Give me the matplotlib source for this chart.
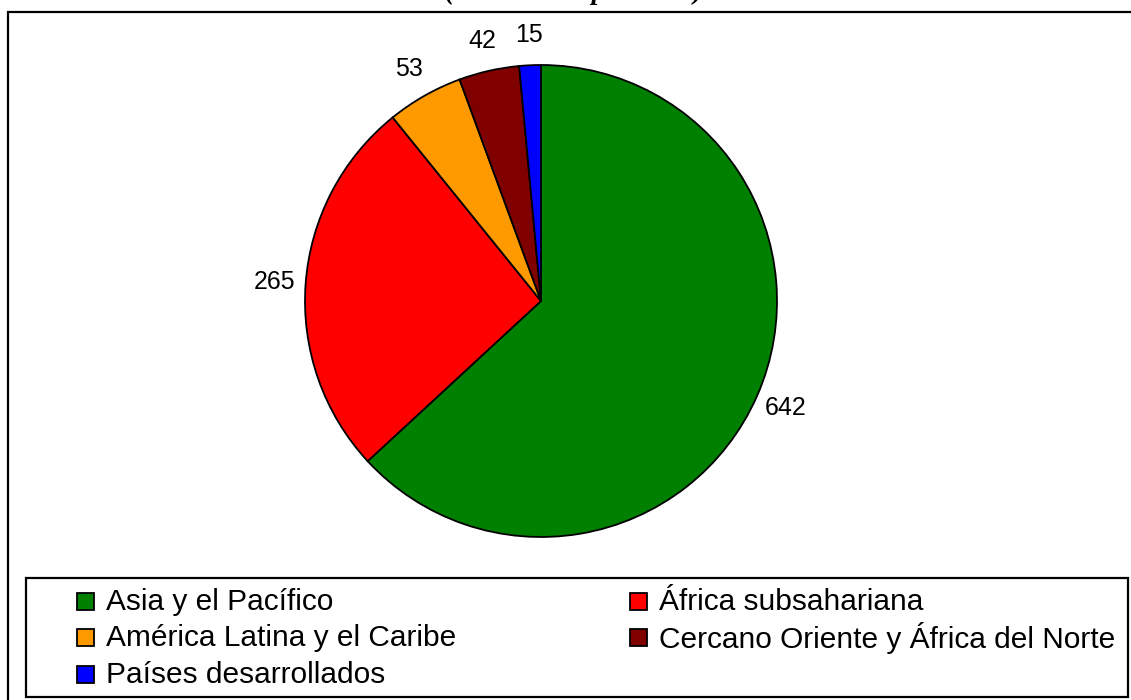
import matplotlib.pyplot as plt
from matplotlib.patches import Rectangle

# Dane (millones de personas)
regiones = ['Asia y el Pacífico', 'África subsahariana',
            'América Latina y el Caribe', 'Cercano Oriente y África del Norte',
            'Países desarrollados']
valores = [642, 265, 53, 42, 15]
colores = ['#008000', '#FF0000', '#FF9900', '#800000', '#0000FF']
titulo = '(millones de personas)'

W, H = 1131, 700


# Zamiana pikseli na wspolrzedne figury
def fx(px):
    return px / W


def fy(py):
    return 1 - py / H


fig = plt.figure(figsize=(W / 100, H / 100), dpi=100)
plt.rcParams['font.family'] = ['Liberation Sans', 'DejaVu Sans']

# Ramka zewnetrzna
fig.patches.append(Rectangle((fx(8), fy(720)), fx(1140), fy(12) - fy(720),
                             transform=fig.transFigure, fill=False,
                             edgecolor='black', linewidth=1.6))

# Tytul (przyciety u gory)
fig.text(fx(574), fy(-1), titulo, ha='center', va='baseline',
         fontsize=20, fontweight='bold', fontstyle='italic',
         family=['Liberation Serif', 'DejaVu Serif'])

# Wykres kolowy
cx, cy, r = 541, 301, 236
ax = fig.add_axes([fx(cx - r), fy(cy + r), fx(2 * r), 2 * r / H])
wedges, texts = ax.pie(valores, colors=colores, startangle=90,
                       counterclock=False, labels=[str(v) for v in valores],
                       labeldistance=1.13,
                       wedgeprops=dict(edgecolor='black', linewidth=1.3),
                       textprops=dict(fontsize=18))
for t in texts:
    t.set_ha('center')
ax.set_xlim(-1, 1)
ax.set_ylim(-1, 1)
ax.set_aspect('equal')
ax.axis('off')

# Legenda
fig.patches.append(Rectangle((fx(26), fy(697)), fx(1128 - 26), (697 - 578) / H,
                             transform=fig.transFigure, fill=False,
                             edgecolor='black', linewidth=1.6))
kolejnosc = [0, 2, 4, 1, 3]
for k, i in enumerate(kolejnosc):
    col, row = divmod(k, 3)
    mx = [77, 630][col]
    my = 601 + row * 36.5
    fig.patches.append(Rectangle((fx(mx), fy(my + 8.5)), fx(17), 17 / H,
                                 transform=fig.transFigure,
                                 facecolor=colores[i], edgecolor='black',
                                 linewidth=1.3))
    fig.text(fx(mx + 29), fy(my + 1), regiones[i], ha='left', va='center',
             fontsize=21.5)

fig.savefig('out.png', dpi=100)
